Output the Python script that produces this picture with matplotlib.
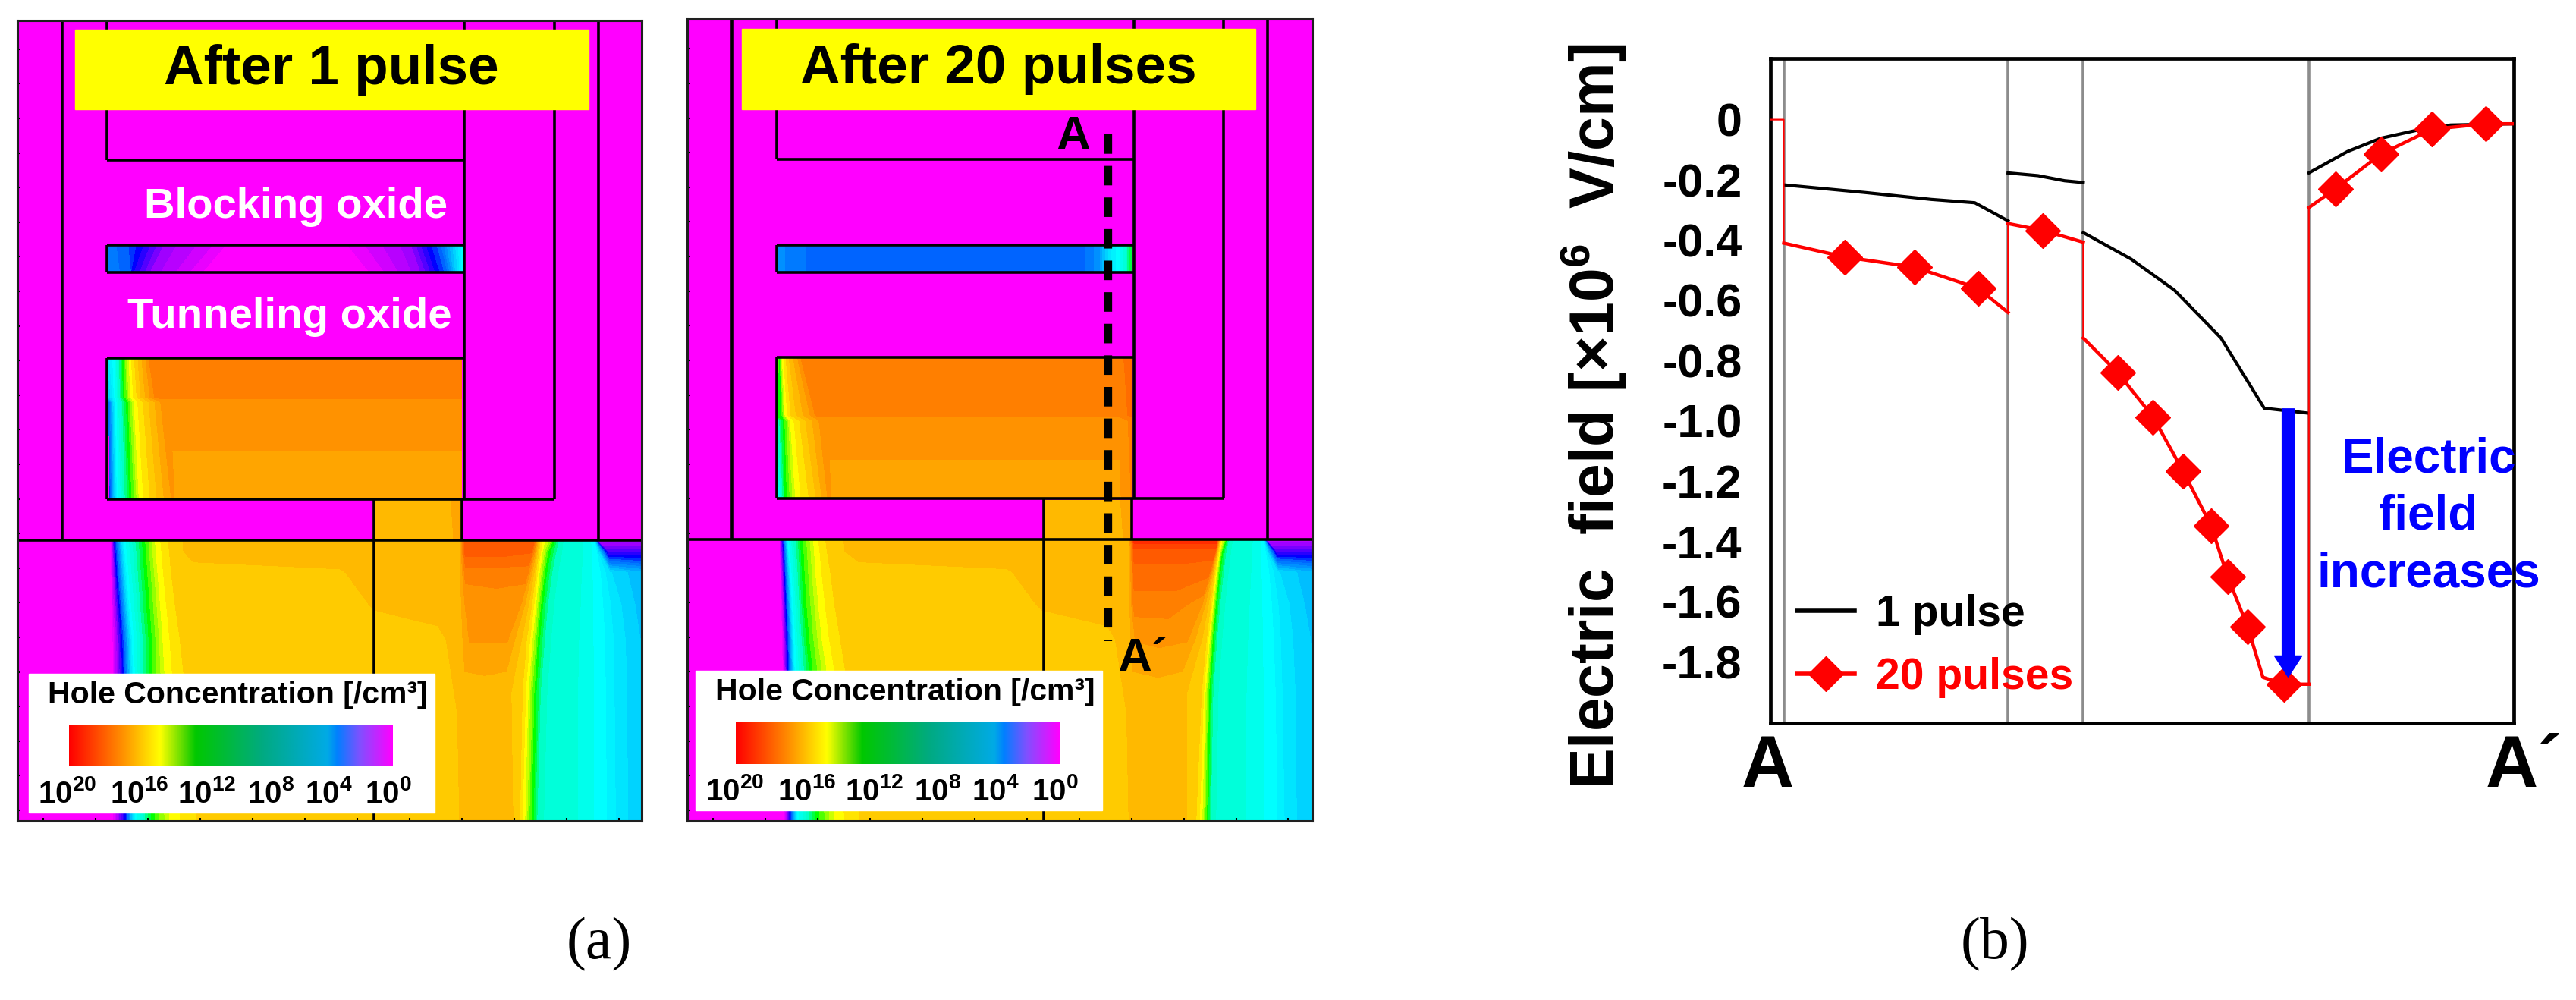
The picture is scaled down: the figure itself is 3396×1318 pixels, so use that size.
import numpy as np
import matplotlib
matplotlib.use('Agg')
import matplotlib.pyplot as plt
from matplotlib.colors import LinearSegmentedColormap, Normalize
from matplotlib.patches import Rectangle

W = 3396
H = 1318

plt.rcParams['font.family'] = ['Liberation Sans', 'DejaVu Sans']
plt.rcParams['font.weight'] = 'bold'
plt.rcParams['mathtext.fontset'] = 'custom'
plt.rcParams['mathtext.rm'] = 'Liberation Sans:bold'
plt.rcParams['mathtext.bf'] = 'Liberation Sans:bold'
plt.rcParams['mathtext.default'] = 'bf'

# ---- panel (b) data: x is the position along the A-A' cut
black_x = [[380, 500, 600, 665, 715],
           [715, 760, 800, 828],
           [828, 900, 965, 1035, 1100, 1165],
           [1167, 1225, 1275, 1330, 1380, 1475]]
black_y = [[-0.217, -0.242, -0.265, -0.276, -0.336],
           [-0.177, -0.186, -0.203, -0.209],
           [-0.375, -0.463, -0.566, -0.725, -0.958, -0.974],
           [-0.177, -0.106, -0.062, -0.035, -0.018, -0.014]]
red_x = [[358, 378],
         [378, 470, 575, 670, 715],
         [715, 768, 828],
         [828, 880, 933, 978, 1020, 1045, 1075, 1098, 1130, 1167],
         [1167, 1207, 1275, 1352, 1433, 1475]]
red_y = [[0.0, 0.0],
         [-0.410, -0.456, -0.490, -0.560, -0.640],
         [-0.345, -0.368, -0.407],
         [-0.725, -0.840, -0.987, -1.167, -1.347, -1.517, -1.683, -1.851, -1.874, -1.874],
         [-0.292, -0.230, -0.115, -0.032, -0.014, -0.014]]
marker_x = [470, 575, 670, 767, 880, 933, 978, 1020, 1045, 1075, 1130, 1207, 1275, 1352, 1433]
marker_y = [-0.456, -0.490, -0.560, -0.368, -0.840, -0.987, -1.167, -1.347, -1.517, -1.683,
            -1.874, -0.230, -0.115, -0.032, -0.014]
layer_edges = [378, 715, 828, 1167]
yticks = [0, -0.2, -0.4, -0.6, -0.8, -1.0, -1.2, -1.4, -1.6, -1.8]
ytick_labels = ['0', '-0.2', '-0.4', '-0.6', '-0.8', '-1.0', '-1.2', '-1.4', '-1.6', '-1.8']

# ---- panel (a) data: log10 of hole concentration on small grids
sub_rows = [1016, 1036, 1075, 1135, 1200, 1300, 1542]
sub1_x = [
    [40, 255, 263, 285, 330, 360, 395, 445, 780, 860, 1005, 1055, 1068, 1150, 1225, 1238, 1246, 1262, 1285, 1330, 1364, 1371, 1473],
    [40, 255, 265, 288, 332, 362, 398, 445, 780, 860, 1005, 1055, 1068, 1150, 1220, 1235, 1243, 1260, 1282, 1328, 1368, 1395, 1473],
    [40, 255, 268, 292, 335, 366, 402, 445, 780, 860, 1005, 1055, 1068, 1150, 1210, 1228, 1236, 1252, 1272, 1322, 1372, 1400, 1473],
    [40, 256, 274, 298, 340, 372, 412, 445, 780, 860, 1005, 1055, 1068, 1130, 1195, 1218, 1228, 1243, 1262, 1318, 1375, 1410, 1473],
    [40, 258, 280, 305, 345, 378, 425, 445, 780, 860, 1005, 1055, 1078, 1120, 1165, 1205, 1220, 1236, 1255, 1312, 1378, 1418, 1473],
    [40, 258, 285, 308, 348, 385, 440, 460, 780, 860, 1005, 1050, 1060, 1110, 1160, 1195, 1210, 1228, 1245, 1308, 1380, 1420, 1473],
    [40, 258, 288, 312, 350, 395, 470, 500, 780, 860, 1005, 1050, 1060, 1110, 1165, 1190, 1202, 1222, 1236, 1306, 1382, 1423, 1473]]
sub1_z = [
    [0, 0, 4, 9, 12, 14, 15, 15.5, 15.5, 15.5, 15.5, 15.5, 18, 18, 18, 15, 14, 13, 10.3, 10, 9, 1.5, 1.5],
    [0, 0, 4, 9, 12, 14, 15, 15.5, 15.5, 15.5, 15.5, 15.5, 18, 18, 17.8, 15, 14, 12, 10.3, 10, 9, 3, 3],
    [0, 0, 4, 9, 12, 14, 15, 15, 15.2, 15.5, 15.5, 15.5, 17, 17, 17, 15, 14, 12, 10.3, 10, 9, 7.8, 6.8],
    [0, 0, 4, 9, 12, 14, 15, 15, 15, 15.3, 15.5, 15.5, 16.3, 16.5, 16.3, 15, 14, 12, 10.3, 10, 9, 8, 7],
    [0, 0, 4, 9, 12, 14, 15, 15, 15, 15, 15.1, 15.5, 16.3, 16.3, 16.3, 15, 14, 12, 10.3, 10, 9, 8, 7.2],
    [0, 0, 4, 9, 12, 14, 15, 15, 15, 15, 15, 15.3, 15.4, 15.5, 15.4, 15, 14, 12, 10.3, 10, 9, 8, 7.3],
    [0, 0, 4, 9, 12, 14, 15, 15, 15, 15, 15, 15, 15.5, 15.5, 15.5, 15, 14, 12, 10.3, 10, 9, 8, 7.3]]
sub2_x = [
    [46, 258, 266, 278, 308, 340, 372, 440, 780, 860, 1010, 1060, 1072, 1170, 1262, 1268, 1272, 1278, 1290, 1335, 1370, 1376, 1481],
    [46, 258, 268, 280, 310, 342, 376, 440, 780, 860, 1010, 1060, 1072, 1170, 1258, 1264, 1268, 1274, 1286, 1332, 1372, 1398, 1481],
    [46, 260, 270, 284, 312, 345, 385, 440, 780, 860, 1010, 1060, 1072, 1170, 1245, 1256, 1260, 1268, 1280, 1328, 1376, 1402, 1481],
    [46, 262, 273, 288, 316, 352, 395, 440, 780, 860, 1010, 1060, 1072, 1165, 1225, 1246, 1252, 1260, 1272, 1322, 1380, 1410, 1481],
    [46, 264, 276, 292, 322, 360, 410, 440, 780, 860, 1010, 1060, 1075, 1130, 1195, 1236, 1244, 1253, 1265, 1316, 1384, 1416, 1481],
    [46, 266, 280, 296, 335, 380, 430, 460, 780, 860, 1010, 1055, 1065, 1125, 1175, 1224, 1234, 1245, 1256, 1310, 1388, 1420, 1481],
    [46, 268, 283, 300, 345, 390, 460, 500, 780, 860, 1010, 1055, 1065, 1125, 1175, 1210, 1226, 1240, 1250, 1306, 1392, 1425, 1481]]
sub2_z = [
    [0, 0, 4, 9, 12, 14, 15, 15.5, 15.5, 15.5, 15.5, 15.5, 19, 19, 19, 15, 14, 13, 10.3, 10, 9, 1.5, 1.5],
    [0, 0, 4, 9, 12, 14, 15, 15.5, 15.5, 15.5, 15.5, 15.5, 18, 18, 18, 15, 14, 12, 10.3, 10, 9, 3, 3],
    [0, 0, 4, 9, 12, 14, 15, 15, 15.2, 15.5, 15.5, 15.5, 17.6, 17.6, 17.4, 15, 14, 12, 10.3, 10, 9, 7.8, 6.8],
    [0, 0, 4, 9, 12, 14, 15, 15, 15, 15.3, 15.5, 15.5, 17, 17, 16.5, 15, 14, 12, 10.3, 10, 9, 8, 7],
    [0, 0, 4, 9, 12, 14, 15, 15, 15, 15, 15.1, 15.5, 16.3, 16.4, 16.3, 15, 14, 12, 10.3, 10, 9, 8, 7.2],
    [0, 0, 4, 9, 12, 14, 15, 15, 15, 15, 15, 15.3, 15.4, 15.5, 15.4, 15, 14, 12, 10.3, 10, 9, 8, 7.3],
    [0, 0, 4, 9, 12, 14, 15, 15, 15, 15, 15, 15, 15.5, 15.5, 15.5, 15, 14, 12, 10.3, 10, 9, 8, 7.3]]

gate1_rows = [672, 745, 755, 937]
gate1_x = [[248, 262, 282, 298, 312, 335, 345, 600, 1060],
           [248, 264, 285, 302, 318, 345, 360, 600, 1060],
           [250, 266, 292, 310, 335, 370, 385, 600, 1060],
           [252, 270, 300, 322, 352, 395, 405, 600, 1060]]
gate1_z = [[8, 9, 12, 14, 15, 16.3, 17, 17, 17],
           [7, 9, 12, 14, 15, 16.3, 17, 17, 17],
           [5, 9, 12, 14, 15, 16.3, 16.3, 16.3, 16.3],
           [4.5, 9, 12, 14, 15, 16.3, 16.2, 16.2, 16.2]]
gate2_rows = [672, 780, 790, 937]
gate2_x = [[252, 258, 265, 275, 300, 312, 640, 1040, 1068],
           [252, 262, 272, 288, 330, 345, 640, 1040, 1068],
           [252, 268, 285, 310, 350, 362, 640, 1040, 1068],
           [252, 272, 298, 335, 370, 382, 640, 1040, 1068]]
gate2_z = [[13, 12, 14, 15, 16.3, 17.1, 17.1, 17.1, 17.6],
           [12, 12, 14, 15, 16.3, 17, 17, 17, 17.4],
           [10, 12, 14, 15, 16.3, 16.3, 16.3, 16.3, 17],
           [8, 12, 14, 15, 16.3, 16.2, 16.2, 16.2, 16.8]]

trap_rows = [462, 510]
trap1_x = [[248, 285, 320, 380, 470, 530, 780, 860, 940, 985, 1010, 1062],
           [248, 300, 300.5, 350, 420, 480, 830, 900, 960, 1005, 1025, 1062]]
trap1_z = [[5.5, 5, 4, 2, 1, 0, 0, 1, 2, 4, 5, 9],
           [5.5, 5, 4, 2, 1, 0, 0, 1, 2, 4, 5, 9]]
trap2_x = [[252, 290, 350, 950, 990, 1015, 1045, 1068],
           [252, 290, 350, 950, 990, 1015, 1045, 1068]]
trap2_z = [[6, 5.5, 5, 5, 6, 8, 9.5, 12],
           [6, 5.5, 5, 5, 6, 8, 9.5, 12]]

neck_rows = [940, 1012]
neck1_x = [[860, 1030, 1060], [860, 1030, 1060]]
neck2_x = [[866, 1036, 1066], [866, 1036, 1066]]
neck_z = [[15.7, 15.7, 16], [15.6, 15.6, 16]]

bar_labels = ['10$^{20}$', '10$^{16}$', '10$^{12}$', '10$^{8}$', '10$^{4}$', '10$^{0}$']
bar_label_x = [155, 320, 475, 621, 754, 891]

# contour colours, log10 value -> colour
field_stops = [(0, '#ff00ff'), (2, '#a000ff'), (4, '#0000ff'), (5, '#0064ff'), (7, '#00beff'),
               (8, '#00e6ff'), (9, '#00ffff'), (10.5, '#00ffc8'), (12, '#00ff00'), (13, '#96ff00'),
               (14, '#ffff00'), (15, '#ffcc00'), (16, '#ffa500'), (17, '#ff8000'), (18, '#ff5a00'),
               (20, '#ff0000')]
field_cmap = LinearSegmentedColormap.from_list('field', [(a / 20, c) for a, c in field_stops], N=512)
field_norm = Normalize(0, 20)
levels = np.arange(-0.25, 20.5, 0.5)

bar_stops = [(0, '#ff0000'), (0.17, '#ff9600'), (0.28, '#ffff00'), (0.39, '#00c800'), (0.6, '#00aa82'),
             (0.8, '#00aae6'), (0.83, '#0080ff'), (0.9, '#8050ff'), (1, '#ff00ff')]
bar_cmap = LinearSegmentedColormap.from_list('bar', bar_stops, N=512)


def field(ax, rows, xs, zs):
    xs = np.array(xs, dtype=float)
    zs = np.array(zs, dtype=float)
    ys = np.repeat(np.array(rows, dtype=float)[:, None], xs.shape[1], axis=1)
    ax.contourf(xs, ys, zs, levels=levels, cmap=field_cmap, norm=field_norm, zorder=1)


def panel(box, xlim, ylim, dx, title, legend_dy):
    ax = fig.add_axes([box[0] / W, 1 - box[3] / H, (box[2] - box[0]) / W, (box[3] - box[1]) / H])
    ax.set_facecolor('#ff00ff')

    # structure outlines
    v = [(142, 38, 1014), (245, 38, 300), (1065, 38, 937), (1272, 38, 937), (1373, 38, 1014),
         (245, 460, 512), (245, 672, 937), (858, 937, 1542), (1060, 937, 1014)]
    h = [(300, 245, 1065), (460, 245, 1065), (512, 245, 1065), (672, 245, 1065), (937, 245, 1272)]
    for x, y0, y1 in v:
        ax.plot([x + dx, x + dx], [y0, y1], color='black', lw=2.6, zorder=2, solid_capstyle='butt')
    for y, x0, x1 in h:
        ax.plot([x0 + dx, x1 + dx], [y, y], color='black', lw=2.6, zorder=2, solid_capstyle='butt')
    ax.plot(xlim, [1014, 1014], color='black', lw=2.6, zorder=2)

    ax.add_patch(Rectangle((172, 55), 1179, 150, color='#ffff00', zorder=4))
    ax.text(761, 130, title, fontsize=52.5, ha='center', va='center', color='black', zorder=5)

    ax.add_patch(Rectangle((66, 1265 + legend_dy), 932, 262, color='white', zorder=4))
    ax.text(110, 1305 + legend_dy, 'Hole Concentration [/cm³]', fontsize=29.5, ha='left', va='center',
            color='black', zorder=5)
    grad = np.linspace(0, 1, 256)[None, :]
    ax.imshow(grad, extent=(158, 900, 1440 + legend_dy, 1362 + legend_dy), cmap=bar_cmap, aspect='auto', zorder=5)
    for xx, lab in zip(bar_label_x, bar_labels):
        ax.text(xx, 1492 + legend_dy, lab, fontsize=29, ha='center', va='center', color='black', zorder=5)

    ax.set_xlim(xlim)
    ax.set_ylim(ylim)
    ax.set_xticks(np.arange(xlim[0] + 60, xlim[1], 120))
    ax.set_yticks(np.arange(92, 1540, 65))
    ax.tick_params(direction='in', length=3, width=1.5, labelbottom=False, labelleft=False)
    for s in ax.spines.values():
        s.set_linewidth(2.2)
        s.set_color('#202020')
    return ax


fig = plt.figure(figsize=(W / 100, H / 100), dpi=100, facecolor='white')

# ---- panel (a), left
ax1 = panel((23, 27, 846, 1082), (40, 1473), (1542, 38), 0, 'After 1 pulse', 0)
field(ax1, sub_rows, sub1_x, sub1_z)
field(ax1, gate1_rows, gate1_x, gate1_z)
field(ax1, trap_rows, trap1_x, trap1_z)
field(ax1, neck_rows, neck1_x, neck_z)
ax1.text(1028, 388, 'Blocking oxide', fontsize=40.5, color='white', ha='right', va='center', zorder=5)
ax1.text(1037, 596, 'Tunneling oxide', fontsize=40.5, color='white', ha='right', va='center', zorder=5)

# ---- panel (a), right
ax2 = panel((906, 25, 1730, 1082), (46, 1481), (1542, 36), 6, 'After 20 pulses', -5)
field(ax2, sub_rows, sub2_x, sub2_z)
field(ax2, gate2_rows, gate2_x, gate2_z)
field(ax2, trap_rows, trap2_x, trap2_z)
field(ax2, neck_rows, neck2_x, neck_z)
ax2.plot([1012, 1012], [252, 1205], color='black', lw=7.4, dashes=(2.5, 1.55), zorder=3)
ax2.text(932, 257, 'A', fontsize=45, ha='center', va='center', color='black', zorder=5)
ax2.text(1035, 1238, 'A´', fontsize=45, ha='left', va='center', color='black', zorder=5)

# ---- panel (b)
ax3 = fig.add_axes([2334 / W, 1 - 953 / H, (3314 - 2334) / W, (953 - 77) / H])
for x in layer_edges:
    ax3.axvline(x, color='#8c8c8c', lw=2.6, zorder=1)
for xs, ys in zip(black_x, black_y):
    ax3.plot(xs, ys, color='black', lw=3, zorder=3)
all_red_x = [x for seg in red_x for x in seg]
all_red_y = [y for seg in red_y for y in seg]
ax3.plot(all_red_x, all_red_y, color='red', lw=1.6, zorder=3)
for xs, ys in zip(red_x[1:], red_y[1:]):
    ax3.plot(xs, ys, color='red', lw=3.2, zorder=3)
ax3.plot(marker_x, marker_y, ls='none', marker='D', ms=23, color='red', mec='red', zorder=4)
ax3.annotate('', xy=(1136, -1.85), xytext=(1136, -0.96), zorder=6,
             arrowprops=dict(width=11.5, headwidth=26, headlength=20, color='#0000ff', shrink=0))
ax3.text(1347, -1.317, 'Electric\nfield\nincreases', fontsize=46, color='#0000ff', ha='center', va='center',
         linespacing=1.33, zorder=6, clip_on=False)

l1, = ax3.plot([], [], color='black', lw=4, label='1 pulse')
l2, = ax3.plot([], [], color='red', lw=4, marker='D', ms=23, label='20 pulses')
leg = ax3.legend(handles=[l1, l2], loc='lower left', bbox_to_anchor=(0.024, 0.025), frameon=False, fontsize=41,
                 handlelength=1.33, handletextpad=0.5, labelspacing=0.5, numpoints=1,
                 labelcolor=['black', 'red'], borderpad=0.2, borderaxespad=0)

ax3.set_xlim(358, 1475)
ax3.set_ylim(-2.003, 0.203)
ax3.set_xticks([])
ax3.set_yticks(yticks)
ax3.set_yticklabels(ytick_labels, fontsize=44)
ax3.tick_params(axis='y', length=0, pad=27)
for s in ax3.spines.values():
    s.set_linewidth(3.4)

fig.text(2100 / W, 1 - 549 / H, 'Electric  field [×10$^{6}$  V/cm]', rotation=90, fontsize=58,
         ha='center', va='center', color='black')
fig.text(2330 / W, 1 - 1012 / H, 'A', fontsize=69, ha='center', va='center', color='black')
fig.text(3277 / W, 1 - 1012 / H, 'A´', fontsize=69, ha='left', va='center', color='black')

fig.text(790 / W, 1 - 1245 / H, '(a)', fontsize=56, family='Liberation Serif', weight='normal', ha='center', va='center')
fig.text(2630 / W, 1 - 1245 / H, '(b)', fontsize=56, family='Liberation Serif', weight='normal', ha='center', va='center')

fig.savefig('out.png', dpi=100)
